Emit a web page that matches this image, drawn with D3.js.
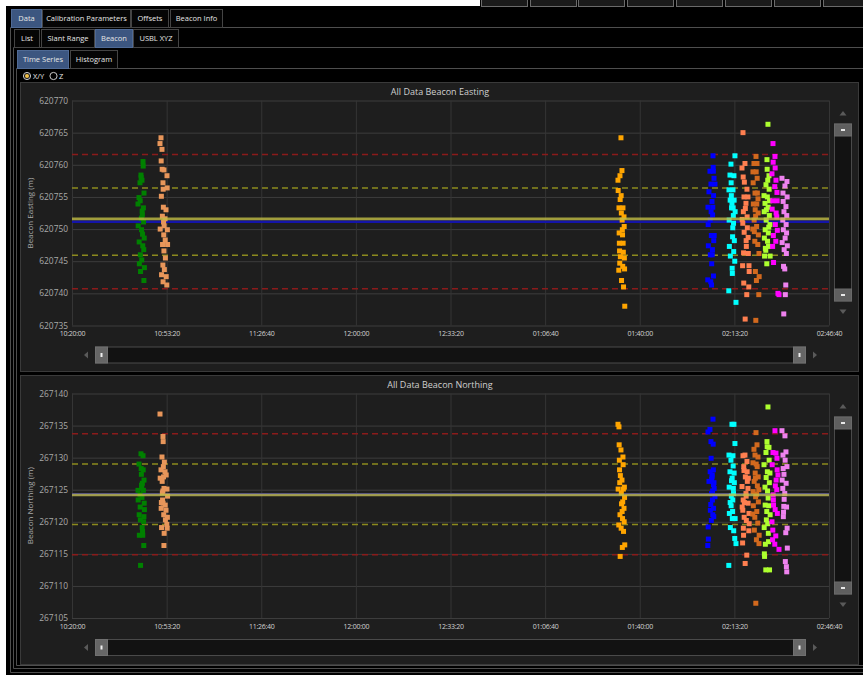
<!DOCTYPE html>
<html>
<head>
<meta charset="utf-8">
<script src="https://cdn.jsdelivr.net/npm/d3@7"></script>
<style>
  html, body { margin: 0; padding: 0; background: #fff; }
  svg { display: block; font-family: "Open Sans", "Noto Sans", sans-serif; }
</style>
</head>
<body>
<svg id="chart" width="863" height="677"></svg>
<script>
// ---------- axis ticks ----------
const timeTicks = ["10:20:00", "10:53:20", "11:26:40", "12:00:00", "12:33:20", "13:06:40", "13:40:00", "14:13:20", "14:46:40"];
const eastingTicks = [620735, 620740, 620745, 620750, 620755, 620760, 620765, 620770];
const northingTicks = [267105, 267110, 267115, 267120, 267125, 267130, 267135, 267140];

// ---------- summary statistics (mean, std dev, reference position) ----------
const eastingMean = 620751.15, eastingSd = 5.22, eastingRef = 620751.6;
const northingMean = 267124.3, northingSd = 4.72, northingRef = 267124.2;

// ---------- beacon passes: sample time, easting, northing ----------
const pass1Time = ["10:45:01","10:45:05","10:44:18","10:44:22","10:44:39","10:43:57","10:45:22","10:43:36","10:44:01","10:43:15","10:45:09","10:44:43","10:44:47","10:44:26","10:45:13","10:43:19","10:44:30","10:44:51","10:45:26","10:43:40","10:44:55","10:45:17","10:44:05","10:44:34","10:43:44","10:45:30","10:44:09","10:45:20"];
const pass1Easting = [620760.5,620759.8,620758.4,620758.0,620757.6,620757.2,620755.6,620754.9,620754.4,620753.9,620753.3,620752.8,620752.2,620751.7,620751.1,620750.5,620749.9,620749.2,620748.6,620748.0,620747.4,620746.8,620746.0,620745.2,620744.6,620744.0,620743.4,620742.0];
const pass1Northing = [267130.3,267128.1,267130.6,267128.3,267123.8,267124.2,267126.5,267129.0,267122.3,267124.9,267124.9,267119.1,267126.0,267127.4,267120.0,267123.4,267125.7,267118.5,267122.9,267121.1,267117.9,267116.3,267120.3,267125.3,267117.9,267121.9,267113.2,267120.8];

const pass2Time = ["10:51:21","10:51:00","10:51:42","10:51:25","10:51:46","10:52:24","10:53:28","10:52:03","10:53:32","10:52:07","10:51:29","10:52:11","10:53:07","10:51:50","10:52:46","10:52:15","10:52:28","10:51:04","10:53:36","10:52:19","10:52:50","10:51:54","10:53:40","10:52:23","10:52:54","10:52:01","10:52:32","10:51:33","10:53:11","10:52:05","10:53:24"];
const pass2Easting = [620764.2,620763.3,620762.4,620760.6,620759.3,620759.2,620758.3,620757.2,620756.4,620756.2,620755.1,620753.4,620753.0,620752.0,620751.6,620751.1,620750.5,620750.0,620749.9,620749.1,620748.3,620747.6,620747.6,620746.6,620745.5,620744.4,620743.7,620742.9,620742.6,620741.8,620741.3];
const pass2Northing = [267128.1,267136.8,267130.1,267122.1,267126.3,267125.2,267125.1,267133.3,267119.0,267132.5,267123.0,267128.6,267121.8,267124.5,267127.8,267127.0,267118.2,267126.8,267120.7,267121.1,267122.6,267123.4,267124.0,267116.3,267120.3,267124.8,267129.3,267119.1,267127.3,267122.9,267119.6];

const pass3Time = ["13:33:23","13:33:44","13:33:02","13:32:20","13:32:24","13:33:27","13:33:06","13:32:41","13:34:05","13:33:31","13:34:27","13:33:48","13:34:31","13:33:52","13:32:45","13:33:56","13:32:49","13:34:09","13:32:53","13:34:13","13:33:10","13:34:35","13:32:57","13:34:00","13:34:39","13:32:37","13:33:35","13:34:17","13:34:43"];
const pass3Easting = [620764.2,620759.1,620758.3,620757.6,620756.0,620755.2,620754.6,620753.3,620753.3,620752.5,620751.9,620751.4,620750.4,620749.9,620749.4,620749.1,620747.8,620747.8,620746.6,620746.4,620745.7,620745.5,620744.7,620744.2,620743.8,620743.6,620742.0,620741.0,620738.0];
const pass3Northing = [267131.2,267126.5,267121.1,267135.2,267125.1,267119.0,267114.6,267134.8,267130.1,267124.5,267122.1,267121.6,267120.0,267116.0,267132.0,267120.5,267129.6,267128.9,267128.1,267125.1,267127.2,267125.4,267126.1,267123.1,267123.8,267119.5,267122.8,267118.5,267116.4];

const pass4Time = ["14:05:48","14:05:52","14:04:44","14:05:56","14:06:09","14:05:05","14:06:30","14:04:23","14:06:00","14:05:27","14:04:02","14:05:44","14:05:09","14:05:40","14:04:48","14:04:06","14:05:13","14:06:13","14:06:04","14:04:10","14:05:36","14:04:52","14:05:32","14:05:21","14:05:58","14:03:58","14:05:01","14:05:17"];
const pass4Easting = [620761.4,620759.6,620759.0,620759.0,620757.9,620757.0,620757.0,620755.8,620755.2,620754.3,620753.4,620753.4,620752.7,620752.2,620751.4,620750.7,620749.0,620749.0,620748.2,620747.4,620746.8,620746.0,620746.0,620744.6,620742.7,620742.1,620741.8,620741.3];
const pass4Northing = [267136.0,267132.1,267134.4,267128.1,267126.1,267132.5,267123.9,267126.3,267122.1,267127.0,267134.0,267121.1,267129.9,267124.8,267127.8,267119.2,267120.2,267125.2,267120.8,267117.3,267123.4,267121.8,267127.3,267126.6,267125.8,267116.3,267122.7,267124.4];

const pass5Time = ["14:13:32","14:12:08","14:11:47","14:13:11","14:12:12","14:11:26","14:12:50","14:12:16","14:13:15","14:11:51","14:12:29","14:12:54","14:12:20","14:13:36","14:12:58","14:11:30","14:13:02","14:12:46","14:12:42","14:13:19","14:11:34","14:13:06","14:11:55","14:13:28","14:12:33","14:12:37","14:11:22","14:13:54"];
const pass5Easting = [620761.4,620760.1,620758.4,620758.3,620757.2,620756.1,620756.1,620755.2,620754.5,620754.5,620754.0,620753.3,620753.3,620752.7,620752.1,620751.4,620750.9,620750.2,620748.8,620748.2,620747.3,620746.5,620745.8,620745.0,620743.9,620743.1,620740.4,620738.6];
const pass5Northing = [267132.2,267129.6,267127.8,267135.2,267122.5,267130.4,267130.3,267124.0,267127.6,267123.0,267135.2,267128.7,267126.4,267120.5,267125.2,267125.4,267124.4,267123.4,267121.6,267126.1,267121.3,267118.6,267119.1,267117.4,267126.8,267120.5,267113.2,267116.6];

const pass6Time = ["14:16:22","14:17:04","14:16:01","14:16:26","14:17:46","14:16:43","14:18:07","14:17:25","14:16:30","14:17:50","14:16:18","14:17:54","14:16:47","14:18:11","14:17:29","14:16:34","14:18:15","14:16:14","14:18:29","14:18:33","14:16:38","14:18:25","14:17:42","14:17:08","14:17:12","14:16:05","14:17:33","14:16:51"];
const pass6Easting = [620765.0,620760.2,620759.5,620758.1,620756.2,620755.0,620755.0,620754.0,620752.7,620751.9,620750.9,620750.2,620749.5,620748.7,620748.2,620746.3,620746.2,620744.3,620744.3,620743.4,620741.6,620741.0,620739.8,620736.0,620753.2,620751.5,620747.3,620757.3];
const pass6Northing = [267130.3,267130.4,267125.5,267123.4,267129.4,267128.0,267125.2,267124.4,267119.0,267127.8,267121.8,267126.3,267120.7,267122.9,267124.0,267117.9,267126.8,267116.7,267121.3,267119.7,267128.6,267118.6,267114.8,267113.5,267127.0,267122.3,267120.2,267123.0];

const pass7Time = ["14:20:57","14:20:14","14:21:18","14:19:53","14:21:01","14:21:22","14:19:57","14:21:26","14:20:36","14:21:39","14:20:01","14:21:14","14:20:40","14:21:43","14:20:18","14:21:10","14:19:49","14:21:47","14:20:32","14:21:35","14:22:00","14:20:44","14:22:04","14:21:06","14:21:56","14:20:53","14:20:49","14:20:22"];
const pass7Easting = [620761.3,620760.2,620760.2,620758.9,620758.9,620757.9,620757.2,620755.6,620755.6,620754.7,620753.9,620753.9,620753.0,620752.5,620751.4,620750.4,620750.0,620749.1,620748.1,620747.6,620746.2,620743.4,620742.6,620742.0,620739.8,620735.8,620752.0,620749.6];
const pass7Northing = [267133.9,267131.3,267132.0,267129.2,267129.0,267128.6,267124.7,267125.6,267130.4,267130.1,267122.5,267121.6,267127.6,267127.0,267126.3,267124.3,267121.2,267123.1,267120.7,267119.8,267116.6,267126.8,267117.9,267117.2,267125.0,267107.3,267123.9,267118.7];

const pass8Time = ["14:25:10","14:24:49","14:24:53","14:25:31","14:24:28","14:25:35","14:23:46","14:24:57","14:24:07","14:25:14","14:23:50","14:25:39","14:24:32","14:25:52","14:24:11","14:25:18","14:23:54","14:25:01","14:25:22","14:23:58","14:25:56","14:24:45","14:24:36","14:25:27","14:24:15","14:25:05","14:24:24","14:25:43"];
const pass8Easting = [620766.3,620760.8,620759.3,620758.3,620756.9,620756.2,620755.2,620755.0,620754.0,620753.4,620752.7,620752.1,620751.4,620750.7,620749.9,620749.4,620748.6,620748.1,620747.3,620745.8,620745.8,620744.6,620753.0,620750.3,620747.0,620757.6,620746.7,620754.4];
const pass8Northing = [267137.9,267132.5,267131.7,267131.6,267130.8,267129.6,267128.9,267127.8,267125.4,267123.7,267119.1,267126.1,267126.9,267127.6,267122.6,267118.2,267115.0,267124.8,267116.9,267114.6,267121.1,267121.6,267120.3,267122.5,267116.5,267119.7,267112.5,267112.5];

const pass9Time = ["14:26:56","14:27:38","14:27:00","14:27:42","14:26:35","14:27:59","14:27:34","14:28:20","14:26:52","14:28:24","14:26:39","14:28:03","14:28:16","14:27:46","14:28:28","14:27:04","14:27:55","14:26:48","14:27:08","14:28:41","14:29:03"];
const pass9Easting = [620763.3,620761.3,620760.4,620759.5,620758.6,620757.6,620756.6,620755.7,620754.4,620754.4,620753.1,620752.5,620751.9,620750.7,620749.8,620749.0,620748.1,620747.3,620744.8,620740.0,620739.8];
const pass9Northing = [267130.8,267134.2,267124.2,267121.9,267120.0,267130.7,267116.5,267129.9,267118.7,267128.1,267128.9,267126.5,267125.0,267125.6,267121.3,267123.4,267117.8,267117.2,267122.6,267127.3,267115.7];

const pass10Time = ["14:30:06","14:31:51","14:31:09","14:30:27","14:31:55","14:30:31","14:31:30","14:30:48","14:31:47","14:30:23","14:31:34","14:30:35","14:31:43","14:31:13","14:30:10","14:31:59","14:30:52","14:31:39","14:30:39","14:31:05","14:31:26","14:31:17","14:30:44"];
const pass10Easting = [620757.9,620757.4,620756.7,620755.6,620755.0,620754.3,620753.5,620752.7,620752.1,620751.4,620750.7,620749.9,620749.4,620748.6,620747.9,620747.4,620746.8,620746.2,620744.2,620743.8,620741.3,620739.8,620736.8];
const pass10Northing = [267134.2,267128.6,267133.4,267130.4,267119.0,267128.3,267130.9,267127.4,267112.2,267125.2,267126.0,267120.8,267122.3,267129.6,267126.5,267115.9,267123.5,267113.0,267121.5,267124.4,267118.3,267113.8,267122.4];

const passColors = ["#008000", "#E8965A", "#FFA500", "#0000FF", "#00FFFF", "#FF7F50", "#D2691E", "#ADFF2F", "#FF00FF", "#EE82EE"];

// ---------- build sample table ----------
const parseClock = d3.timeParse("%H:%M:%S");
const formatClock = d3.timeFormat("%I:%M:%S");
const passTimes = [pass1Time, pass2Time, pass3Time, pass4Time, pass5Time, pass6Time, pass7Time, pass8Time, pass9Time, pass10Time];
const passEastings = [pass1Easting, pass2Easting, pass3Easting, pass4Easting, pass5Easting, pass6Easting, pass7Easting, pass8Easting, pass9Easting, pass10Easting];
const passNorthings = [pass1Northing, pass2Northing, pass3Northing, pass4Northing, pass5Northing, pass6Northing, pass7Northing, pass8Northing, pass9Northing, pass10Northing];
const samples = [];
passTimes.forEach((times, p) => {
  times.forEach((t, i) => {
    samples.push({ time: parseClock(t), easting: passEastings[p][i], northing: passNorthings[p][i], color: passColors[p] });
  });
});
const timeTickDates = timeTicks.map(parseClock);

// ---------- shared x scale ----------
const plotLeft = 72, plotRight = 829;
const x = d3.scaleTime()
  .domain([timeTickDates[0], timeTickDates[timeTickDates.length - 1]])
  .range([plotLeft, plotRight]);

const svg = d3.select("#chart");

// ---------- window chrome ----------
svg.append("rect").attr("width", 863).attr("height", 677).attr("fill", "#ffffff");
svg.append("rect").attr("x", 6).attr("y", 6).attr("width", 857).attr("height", 669).attr("fill", "#000000");
svg.append("rect").attr("x", 480).attr("y", 0).attr("width", 383).attr("height", 8).attr("fill", "#000");
[481, 530, 578, 627, 676, 725, 774, 823].forEach(sx => {
  svg.append("rect").attr("x", sx + 0.5).attr("y", -4.5).attr("width", 46).attr("height", 11)
    .attr("fill", "#1a1a1a").attr("stroke", "#6a6a6a");
});

// nested container borders
const borderColor = "#4e4e4e";
svg.append("path").attr("fill", "none").attr("stroke", borderColor)
  .attr("d", "M10.5,27.5 H863 M10.5,27.5 V672.5 H863");
svg.append("path").attr("fill", "none").attr("stroke", borderColor)
  .attr("d", "M13.5,47.5 H863 M13.5,47.5 V668.5 H863");
svg.append("path").attr("fill", "none").attr("stroke", borderColor)
  .attr("d", "M16.5,68.5 H863 M16.5,68.5 V665.5 H863");

// tab strips
function tabRow(tabs, y0, y1) {
  tabs.forEach(([label, x0, x1, selected]) => {
    svg.append("rect").attr("x", x0 + 0.5).attr("y", y0 + 0.5).attr("width", x1 - x0).attr("height", y1 - y0)
      .attr("fill", selected ? "#3c5680" : "#050505").attr("stroke", selected ? "#4f6a95" : "#444");
    svg.append("text").attr("x", (x0 + x1) / 2 + 0.5).attr("y", (y0 + y1) / 2 + 3)
      .attr("text-anchor", "middle").attr("font-size", 7.5).attr("fill", "#e6e6e6").text(label);
  });
}
tabRow([["Data", 11, 41, true], ["Calibration Parameters", 42, 130], ["Offsets", 131, 168], ["Beacon Info", 170, 222]], 9, 27);
tabRow([["List", 14, 39], ["Slant Range", 41, 94], ["Beacon", 95, 132, true], ["USBL XYZ", 133, 178]], 29, 47);
tabRow([["Time Series", 17, 68, true], ["Histogram", 70, 117]], 50, 68);

// radio buttons
svg.append("circle").attr("cx", 27).attr("cy", 76).attr("r", 3.6).attr("fill", "#1c1c1c").attr("stroke", "#c8c8c8").attr("stroke-width", 1);
svg.append("circle").attr("cx", 27).attr("cy", 76).attr("r", 2).attr("fill", "#f3c24a");
svg.append("text").attr("x", 33).attr("y", 79).attr("font-size", 7.5).attr("fill", "#e6e6e6").text("X/Y");
svg.append("circle").attr("cx", 53.5).attr("cy", 76).attr("r", 3.6).attr("fill", "none").attr("stroke", "#c8c8c8").attr("stroke-width", 1);
svg.append("text").attr("x", 59).attr("y", 79).attr("font-size", 7.5).attr("fill", "#e6e6e6").text("Z");

// ---------- one chart panel ----------
function drawPanel(opt) {
  const g = svg.append("g");
  g.append("rect").attr("x", 20.5).attr("y", opt.panelTop + 0.5).attr("width", 838).attr("height", opt.panelHeight)
    .attr("fill", "#1e1e1e").attr("stroke", "#3a3a3a");

  const y = d3.scaleLinear().domain(d3.extent(opt.ticks)).range([opt.bottom, opt.top]);

  // grid
  g.append("g").attr("transform", `translate(${plotLeft},0)`)
    .call(d3.axisLeft(y).tickValues(opt.ticks).tickSize(-(plotRight - plotLeft)).tickFormat(""))
    .call(a => { a.select(".domain").remove(); a.selectAll("line").attr("stroke", "#3d3d3d"); });
  g.append("g").attr("transform", `translate(0,${opt.bottom})`)
    .call(d3.axisBottom(x).tickValues(timeTickDates).tickSize(-(opt.bottom - opt.top)).tickFormat(""))
    .call(a => { a.select(".domain").remove(); a.selectAll("line").attr("stroke", "#353535"); });

  // tick labels
  g.append("g").attr("transform", `translate(${plotLeft},0)`)
    .call(d3.axisLeft(y).tickValues(opt.ticks).tickSize(0).tickPadding(4).tickFormat(d3.format("d")))
    .call(a => {
      a.select(".domain").remove();
      a.attr("font-family", null).attr("font-size", null);
      a.selectAll("text").attr("fill", "#a9a9a9").attr("font-size", 8.4).attr("dy", "0.3em");
    });
  g.append("g").attr("transform", `translate(0,${opt.bottom})`)
    .call(d3.axisBottom(x).tickValues(timeTickDates).tickSize(0).tickPadding(6).tickFormat(formatClock))
    .call(a => {
      a.select(".domain").remove();
      a.attr("font-family", null).attr("font-size", null);
      a.selectAll("text").attr("fill", "#d2d2d2").attr("font-size", 7).attr("letter-spacing", -0.25);
    });

  // titles
  g.append("text").attr("x", 440).attr("y", opt.panelTop + 13).attr("text-anchor", "middle")
    .attr("font-size", 9).attr("fill", "#cfcfcf").text(opt.title);
  g.append("text").attr("transform", `translate(33,${(opt.top + opt.bottom) / 2}) rotate(-90)`)
    .attr("text-anchor", "middle").attr("font-size", 8).attr("fill", "#a9a9a9").text(opt.axisTitle);

  // statistic lines
  const hline = (v, color, width, dash, op) => g.append("line")
    .attr("x1", plotLeft).attr("x2", plotRight).attr("y1", y(v)).attr("y2", y(v))
    .attr("stroke", color).attr("stroke-width", width).attr("stroke-dasharray", dash).attr("opacity", op);
  hline(opt.mean + 2 * opt.sd, "#8a1b1b", 1.5, "6,4", 1);
  hline(opt.mean - 2 * opt.sd, "#8a1b1b", 1.5, "6,4", 1);
  hline(opt.mean + opt.sd, "#8c8a1e", 1.5, "6,4", 1);
  hline(opt.mean - opt.sd, "#8c8a1e", 1.5, "6,4", 1);
  hline(opt.mean, "#1414a8", 2.6, null, 1);

  // samples
  g.append("g").selectAll("rect").data(samples).join("rect")
    .attr("x", d => x(d.time) - 2.5).attr("y", d => y(d[opt.key]) - 2.5)
    .attr("width", 5).attr("height", 5).attr("fill", d => d.color);

  hline(opt.ref, "#c2bd45", 2.8, null, 0.8);

  // vertical scroll bar
  const vs = opt.top + 23.5;
  g.append("rect").attr("x", 834.5).attr("y", vs).attr("width", 17).attr("height", 177).attr("fill", "#121212").attr("stroke", "#4a4a4a");
  [vs, vs + 165].forEach(ty => {
    g.append("rect").attr("x", 834.5).attr("y", ty).attr("width", 17).attr("height", 12).attr("fill", "#5f5f5f").attr("stroke", "#6a6a6a");
    g.append("rect").attr("x", 841).attr("y", ty + 5).attr("width", 4).attr("height", 2).attr("fill", "#e8e8e8");
  });
  g.append("path").attr("fill", "#5a5a5a").attr("d", `M843,${vs - 13} l3.5,4.5 h-7 z`);
  g.append("path").attr("fill", "#5a5a5a").attr("d", `M843,${vs + 190} l3.5,-4.5 h-7 z`);

  // horizontal scroll bar
  const hs = opt.bottom + 21.5;
  g.append("rect").attr("x", 95.5).attr("y", hs).attr("width", 710).attr("height", 16).attr("fill", "#121212").attr("stroke", "#4a4a4a");
  [95.5, 793.5].forEach(tx => {
    g.append("rect").attr("x", tx).attr("y", hs).attr("width", 12).attr("height", 16).attr("fill", "#666").attr("stroke", "#707070");
    g.append("rect").attr("x", tx + 5).attr("y", hs + 6).attr("width", 2).attr("height", 4).attr("fill", "#eeeeee");
  });
  g.append("path").attr("fill", "#5a5a5a").attr("d", `M84,${hs + 8} l4,-3.5 v7 z`);
  g.append("path").attr("fill", "#5a5a5a").attr("d", `M817,${hs + 8} l-4,-3.5 v7 z`);
}

drawPanel({
  panelTop: 82, panelHeight: 289, top: 100.5, bottom: 325.5,
  ticks: eastingTicks, key: "easting",
  title: "All Data Beacon Easting", axisTitle: "Beacon Easting (m)",
  mean: eastingMean, sd: eastingSd, ref: eastingRef
});
drawPanel({
  panelTop: 375, panelHeight: 289, top: 393.5, bottom: 618,
  ticks: northingTicks, key: "northing",
  title: "All Data Beacon Northing", axisTitle: "Beacon Northing (m)",
  mean: northingMean, sd: northingSd, ref: northingRef
});
</script>
</body>
</html>
